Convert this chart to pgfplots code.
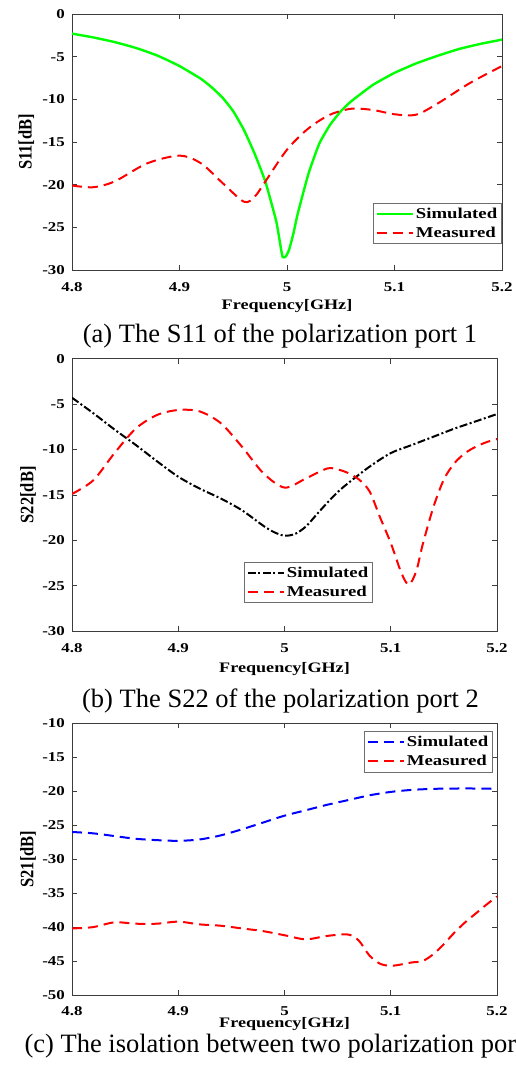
\documentclass[border=0pt]{standalone}
\usepackage{fontspec}
\setmainfont{Liberation Serif}
\newfontfamily\pf{Liberation Serif}[FakeStretch=1.25]
\usepackage{graphicx}
\usepackage{pgfplots}
\pgfplotsset{compat=1.18}

\definecolor{axgray}{RGB}{60,60,60}
\definecolor{leggray}{RGB}{110,110,110}

\pgfplotsset{
  common/.style={
    scale only axis,
    xmin=4.8, xmax=5.2,
    xtick={4.8,4.9,5,5.1,5.2},
    xticklabels={4.8,4.9,5,5.1,5.2},
    tick align=inside,
    xtick pos=both, ytick pos=both,
    major tick length=5pt,
    axis line style={draw=axgray, line width=0.8pt},
    tick style={draw=axgray, line width=0.6pt},
    tick label style={font=\pf\bfseries\fontsize{13.5}{14}\selectfont},
    xticklabel style={anchor=base, inner sep=0pt, yshift=-21pt},
    yticklabel style={anchor=east, inner sep=0pt, xshift=-7pt},
    xlabel={Frequency[GHz]},
    xlabel style={font=\pf\bfseries\fontsize{14.5}{15}\selectfont, anchor=base},
    ylabel style={font=\bfseries\fontsize{16.5}{17}\selectfont, anchor=center},
    legend style={draw=leggray, line width=0.6pt, fill=white,
      font=\pf\bfseries\fontsize{15}{15}\selectfont,
      inner xsep=2.5pt, inner ysep=3pt, row sep=3pt,
      cells={anchor=west}},
    legend cell align=left,
    legend image code/.code={\draw[#1] (0pt,0pt) -- (36pt,0pt);},
  },
  redd/.style={color=red, line width=2pt, dash pattern=on 10pt off 6pt},
}

\pgfplotstableread{
x y
4.80 -2.3
4.82 -2.75
4.84 -3.3
4.86 -4.0
4.88 -4.9
4.90 -6.1
4.92 -7.6
4.93 -8.6
4.94 -9.8
4.95 -11.4
4.96 -13.6
4.97 -16.4
4.98 -19.7
4.99 -24.3
4.994 -27.2
4.996 -28.5
4.999 -28.4
5.002 -27.6
5.006 -25.7
5.01 -23.4
5.02 -18.7
5.03 -15.2
5.04 -13.0
5.05 -11.4
5.06 -10.2
5.08 -8.3
5.10 -6.9
5.12 -5.8
5.14 -4.9
5.16 -4.1
5.18 -3.5
5.20 -3.0
}\simA

\pgfplotstableread{
x y
4.80 -20.1
4.82 -20.3
4.84 -19.6
4.87 -17.5
4.90 -16.6
4.92 -17.5
4.94 -19.8
4.96 -22.0
4.97 -21.4
4.98 -19.6
5.00 -15.9
5.02 -13.4
5.04 -11.8
5.06 -11.1
5.08 -11.25
5.10 -11.75
5.12 -11.8
5.14 -10.5
5.17 -8.1
5.20 -6.1
}\meaA

\pgfplotstableread{
x y
4.80 -4.3
4.82 -6.0
4.84 -7.8
4.86 -9.5
4.88 -11.3
4.90 -13.0
4.92 -14.3
4.94 -15.4
4.96 -16.7
4.98 -18.4
4.99 -19.1
5.00 -19.5
5.01 -19.3
5.02 -18.5
5.03 -17.2
5.04 -15.9
5.05 -14.7
5.06 -13.7
5.08 -11.9
5.10 -10.4
5.12 -9.5
5.14 -8.6
5.16 -7.7
5.18 -6.9
5.20 -6.1
}\simB

\pgfplotstableread{
x y
4.80 -14.9
4.82 -13.4
4.84 -10.4
4.86 -7.7
4.88 -6.2
4.90 -5.65
4.92 -5.8
4.94 -7.1
4.96 -9.7
4.98 -12.6
5.00 -14.2
5.02 -13.2
5.04 -12.1
5.05 -12.2
5.06 -12.6
5.07 -13.3
5.08 -14.6
5.09 -17.5
5.10 -20.3
5.11 -23.6
5.117 -24.9
5.124 -23.4
5.13 -20.5
5.14 -16.4
5.15 -13.3
5.16 -11.5
5.17 -10.4
5.18 -9.7
5.19 -9.2
5.20 -8.85
}\meaB

\pgfplotstableread{
x y
4.80 -26.0
4.82 -26.2
4.84 -26.6
4.86 -27.0
4.88 -27.2
4.90 -27.3
4.92 -27.1
4.94 -26.5
4.96 -25.6
4.98 -24.6
5.00 -23.6
5.02 -22.8
5.04 -22.0
5.06 -21.3
5.08 -20.6
5.10 -20.1
5.12 -19.8
5.14 -19.65
5.16 -19.6
5.18 -19.6
5.20 -19.65
}\simC

\pgfplotstableread{
x y
4.80 -40.2
4.82 -40.0
4.84 -39.3
4.86 -39.5
4.88 -39.5
4.90 -39.2
4.92 -39.6
4.94 -39.8
4.96 -40.2
4.98 -40.6
5.00 -41.2
5.02 -41.8
5.04 -41.3
5.06 -41.1
5.07 -42.0
5.08 -44.2
5.09 -45.4
5.10 -45.7
5.11 -45.5
5.12 -45.2
5.13 -45.0
5.14 -44.0
5.15 -42.5
5.16 -40.8
5.17 -39.3
5.18 -38.0
5.19 -36.7
5.20 -35.5
}\meaC

\begin{document}
\begin{tikzpicture}
\useasboundingbox (0pt,0pt) rectangle (516pt,-1065pt);

% ---------- (a) S11 ----------
\begin{axis}[common,
  at={(72pt,-270pt)}, anchor=south west,
  width=430pt, height=256pt,
  ymin=-30, ymax=0,
  ytick={-30,-25,-20,-15,-10,-5,0},
  yticklabels={-30,-25,-20,-15,-10,-5,0},
  ylabel={\scalebox{1}[1.15]{S11[dB]}},
  ylabel style={at={(axis description cs:-0.106,0.5)}},
  xlabel style={at={(axis description cs:0.5,-0.156)}},
  legend style={at={(axis description cs:1,0.1016)}, anchor=south east},
]
\addplot[color=green, line width=2.4pt, smooth, tension=0.3] table {\simA};
\addlegendentry{Simulated}
\addplot[redd, smooth] table {\meaA};
\addlegendentry{Measured}
\end{axis}
\node[anchor=base, font=\fontsize{26.5}{28}\selectfont] at (280pt,-342pt) {(a) The S11 of the polarization port 1};

% ---------- (b) S22 ----------
\begin{axis}[common,
  at={(72pt,-631pt)}, anchor=south west,
  width=425pt, height=272.3pt,
  ymin=-30, ymax=0,
  ytick={-30,-25,-20,-15,-10,-5,0},
  yticklabels={-30,-25,-20,-15,-10,-5,0},
  ylabel={\scalebox{1}[1.15]{S22[dB]}},
  ylabel style={at={(axis description cs:-0.1035,0.5)}},
  xlabel style={at={(axis description cs:0.5,-0.154)}},
  legend style={at={(axis description cs:0.405,0.103)}, anchor=south west},
]
\addplot[color=black, line width=2pt, dash pattern=on 8pt off 2.5pt on 2pt off 2.5pt, smooth] table {\simB};
\addlegendentry{Simulated}
\addplot[redd, smooth] table {\meaB};
\addlegendentry{Measured}
\end{axis}
\node[anchor=base, font=\fontsize{26.5}{28}\selectfont] at (280.5pt,-707pt) {(b) The S22 of the polarization port 2};

% ---------- (c) S21 ----------
\begin{axis}[common,
  at={(72pt,-995pt)}, anchor=south west,
  width=425pt, height=271.7pt,
  ymin=-50, ymax=-10,
  ytick={-50,-45,-40,-35,-30,-25,-20,-15,-10},
  yticklabels={-50,-45,-40,-35,-30,-25,-20,-15,-10},
  xticklabel style={yshift=1pt},
  ylabel={\scalebox{1}[1.15]{S21[dB]}},
  ylabel style={at={(axis description cs:-0.1035,0.5)}},
  xlabel style={at={(axis description cs:0.5,-0.121)}},
  legend style={at={(axis description cs:0.9906,0.9717)}, anchor=north east},
]
\addplot[color=blue, line width=2pt, dash pattern=on 10pt off 6pt, smooth] table {\simC};
\addlegendentry{Simulated}
\addplot[redd, smooth] table {\meaC};
\addlegendentry{Measured}
\end{axis}
\node[anchor=base west, font=\fontsize{26.5}{28}\selectfont] at (21pt,-1052pt) {(c) The isolation between two polarization por};
\end{tikzpicture}
\end{document}
